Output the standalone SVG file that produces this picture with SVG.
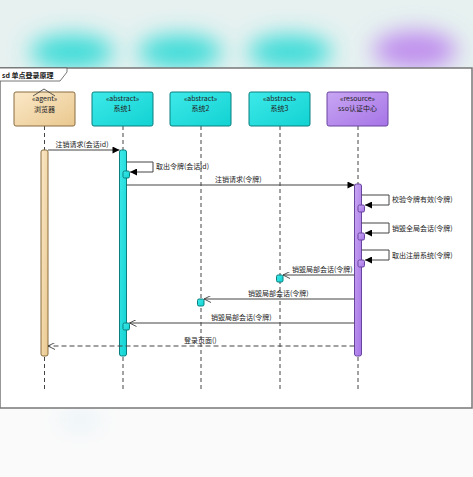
<svg xmlns="http://www.w3.org/2000/svg" width="473" height="477" viewBox="0 0 473 477">
<defs>
<filter id="blur" x="-50%" y="-50%" width="200%" height="200%"><feGaussianBlur stdDeviation="11"/></filter>
<linearGradient id="gTan" x1="0" y1="0" x2="1" y2="1"><stop offset="0" stop-color="#fbe8c8"/><stop offset="1" stop-color="#e9c88e"/></linearGradient>
<linearGradient id="gCyan" x1="0" y1="0" x2="1" y2="1"><stop offset="0" stop-color="#3ee9e9"/><stop offset="1" stop-color="#12d2d2"/></linearGradient>
<linearGradient id="gPurple" x1="0" y1="0" x2="1" y2="1"><stop offset="0" stop-color="#c8a6f3"/><stop offset="1" stop-color="#a674e6"/></linearGradient>
<marker id="filled" viewBox="0 0 10 10" refX="10" refY="5" markerWidth="10" markerHeight="7" markerUnits="userSpaceOnUse" orient="auto"><path d="M0,0 L10,5 L0,10 z" fill="#000"/></marker>
<marker id="open" viewBox="0 0 10 10" refX="10" refY="5" markerWidth="10" markerHeight="7" markerUnits="userSpaceOnUse" orient="auto"><path d="M0,0 L10,5 L0,10" fill="none" stroke="#333" stroke-width="1.2"/></marker>
</defs>
<style>
text{font-family:"Noto Sans CJK SC","Liberation Sans",sans-serif;font-size:7px;fill:#222}
.c{text-anchor:middle}
.life{stroke:#444;stroke-width:1;stroke-dasharray:4,3;fill:none}
.msg{stroke:#444;stroke-width:1;fill:none}
.ret{stroke:#444;stroke-width:1;stroke-dasharray:5,3;fill:none}
.tan{fill:url(#gTan);stroke:#8a6d40;stroke-width:1}
.cyan{fill:url(#gCyan);stroke:#0b7f7f;stroke-width:1}
.purple{fill:url(#gPurple);stroke:#6a45a0;stroke-width:1}
</style>
<rect width="473" height="477" fill="#fafafa"/>
<rect width="473" height="68" fill="#e6f1f0"/>
<g filter="url(#blur)">
<ellipse cx="72" cy="52" rx="42" ry="17" fill="#3cdcd8"/>
<ellipse cx="180" cy="52" rx="42" ry="17" fill="#3cdcd8"/>
<ellipse cx="290" cy="52" rx="42" ry="17" fill="#3cdcd8"/>
<ellipse cx="415" cy="50" rx="42" ry="19" fill="#c090ee"/>
<ellipse cx="80" cy="420" rx="22" ry="8" fill="#e6f2f8"/>
</g>
<rect x="0" y="68" width="472" height="340" fill="#fff" stroke="#777" stroke-width="1.5"/>
<path d="M0,68 L67,68 L67,72 L60,81 L0,81" fill="#fff" stroke="#555" stroke-width="0.8"/>
<text x="2" y="78" style="font-weight:bold">sd 单点登录原理</text>
<g id="lifelines">
<line class="life" x1="44.5" y1="126" x2="44.5" y2="392"/>
<line class="life" x1="123" y1="126" x2="123" y2="392"/>
<line class="life" x1="201" y1="126" x2="201" y2="392"/>
<line class="life" x1="280" y1="126" x2="280" y2="392"/>
<line class="life" x1="358" y1="126" x2="358" y2="392"/>
</g>
<g id="browser">
<rect class="tan" x="14" y="92" width="61" height="34" rx="2"/>
<polyline points="33,96 44,89 55,96" fill="none" stroke="#333" stroke-width="0.8"/>
<text class="c" x="44.5" y="101">«agent»</text>
<text class="c" x="44.5" y="112">浏览器</text>
<rect class="tan" x="41" y="150" width="7" height="206" rx="2"/>
</g>
<g id="sys1">
<rect class="cyan" x="92" y="92" width="61" height="34" rx="2"/>
<text class="c" x="122.5" y="101">«abstract»</text>
<text class="c" x="122.5" y="111">系统1</text>
<rect class="cyan" x="119.5" y="150" width="7" height="206" rx="2"/>
</g>
<g id="sys2">
<rect class="cyan" x="170" y="92" width="61" height="34" rx="2"/>
<text class="c" x="200.5" y="101">«abstract»</text>
<text class="c" x="200.5" y="111">系统2</text>
</g>
<g id="sys3">
<rect class="cyan" x="249" y="92" width="61" height="34" rx="2"/>
<text class="c" x="279.5" y="101">«abstract»</text>
<text class="c" x="279.5" y="111">系统3</text>
</g>
<g id="sso">
<rect class="purple" x="327" y="92" width="61" height="34" rx="2"/>
<text class="c" x="357.5" y="101">«resource»</text>
<text class="c" x="357.5" y="111">sso认证中心</text>
<rect class="purple" x="354.5" y="184" width="7" height="172" rx="2"/>
</g>
<g id="connectors">
<line class="msg" x1="48" y1="150" x2="119.5" y2="150" marker-end="url(#filled)"/>
<text class="c" x="82" y="147">注销请求(会话id)</text>
<polyline class="msg" points="126.5,162 153,162 153,172 130,172" marker-end="url(#filled)"/>
<rect class="cyan" x="123" y="171" width="6.5" height="7" rx="1.5"/>
<text x="156" y="169">取出令牌(会话id)</text>
<line class="msg" x1="126.5" y1="185" x2="354.5" y2="185" marker-end="url(#filled)"/>
<text x="215" y="182">注销请求(令牌)</text>
<polyline class="msg" points="361.5,195 389,195 389,205 365,205" marker-end="url(#filled)"/>
<rect class="purple" x="358" y="205" width="6.5" height="7" rx="1.5"/>
<text x="392" y="202">校验令牌有效(令牌)</text>
<polyline class="msg" points="361.5,223 389,223 389,233 365,233" marker-end="url(#filled)"/>
<rect class="purple" x="358" y="233" width="6.5" height="7" rx="1.5"/>
<text x="392" y="231">销毁全局会话(令牌)</text>
<polyline class="msg" points="361.5,250 389,250 389,260 365,260" marker-end="url(#filled)"/>
<rect class="purple" x="358" y="260" width="6.5" height="7" rx="1.5"/>
<text x="392" y="258">取出注册系统(令牌)</text>
<line class="msg" x1="354.5" y1="275" x2="283" y2="275" marker-end="url(#open)"/>
<rect class="cyan" x="276.5" y="275" width="6.5" height="7" rx="1.5"/>
<text x="292" y="272">销毁局部会话(令牌)</text>
<line class="msg" x1="354.5" y1="299" x2="204" y2="299" marker-end="url(#open)"/>
<rect class="cyan" x="197.5" y="299" width="6.5" height="7" rx="1.5"/>
<text x="248" y="296">销毁局部会话(令牌)</text>
<line class="msg" x1="354.5" y1="323" x2="129.5" y2="323" marker-end="url(#open)"/>
<rect class="cyan" x="123" y="323" width="6.5" height="7" rx="1.5"/>
<text x="211" y="320">销毁局部会话(令牌)</text>
<line class="ret" x1="354.5" y1="346" x2="48" y2="346" marker-end="url(#open)"/>
<text x="184" y="343">登录页面()</text>
</g>
</svg>
